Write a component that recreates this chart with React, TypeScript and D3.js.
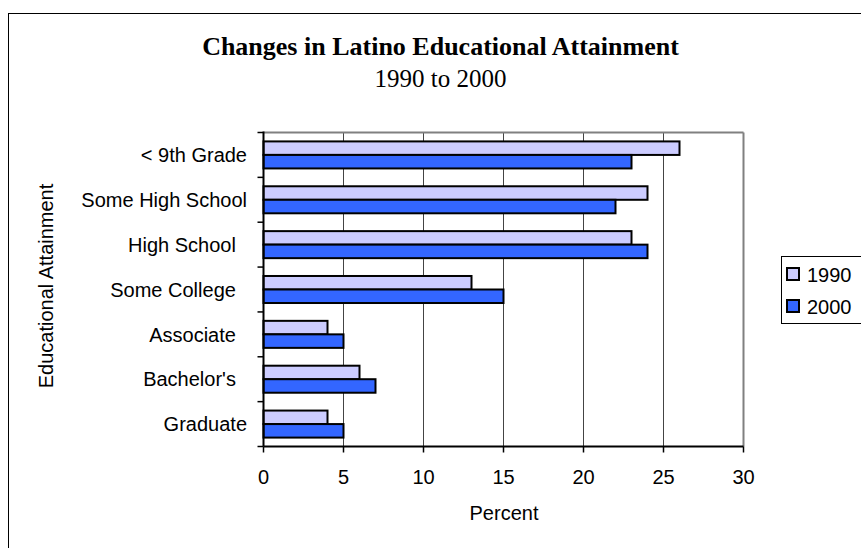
import React from "react";
import * as d3 from "d3";

const categories = ["< 9th Grade", "Some High School", "High School  ", "Some College  ", "Associate  ", "Bachelor's  ", "Graduate"];
const values1990 = [26, 24, 23, 13, 4, 6, 4];
const values2000 = [23, 22, 24, 15, 5, 7, 5];
const seriesNames = ["1990", "2000"];
const seriesColors = ["#CCCCFF", "#3366FF"];
const xTicks = [0, 5, 10, 15, 20, 25, 30];

const W = 861;
const H = 548;
const SANS = "'Liberation Sans', Arial, sans-serif";
const SERIF = "'Liberation Serif', 'Times New Roman', serif";

export default function App() {
  const left = 263.5, right = 743.5, top = 132.5, bottom = 446.5;
  const x = d3.scaleLinear().domain([0, 30]).range([left, right]);
  const y0 = d3.scaleBand<string>().domain(categories).range([top, bottom]).padding(0);
  const y1 = d3.scaleBand<string>().domain(seriesNames).range([0, y0.bandwidth()]).paddingInner(0).paddingOuter(0.66);
  const series = [values1990, values2000];
  const boundaries = d3.range(categories.length + 1).map((i) => top + i * y0.step());

  return (
    <svg width={W} height={H} style={{ position: "fixed", left: 0, top: 0, background: "#fff" }}>
      <rect x={8.5} y={13.5} width={900} height={600} fill="#fff" stroke="#000" strokeWidth={1} />
      <text x={440.5} y={55} textAnchor="middle" fontFamily={SERIF} fontWeight="bold" fontSize={26}>
        Changes in Latino Educational Attainment
      </text>
      <text x={440.5} y={87} textAnchor="middle" fontFamily={SERIF} fontSize={25}>
        1990 to 2000
      </text>

      {/* gridlines */}
      {xTicks.slice(1, -1).map((t) => (
        <line key={"g" + t} x1={x(t)} x2={x(t)} y1={top} y2={bottom} stroke="#444" strokeWidth={1} />
      ))}
      {/* plot border top/right */}
      <line x1={left} x2={right} y1={top} y2={top} stroke="#808080" strokeWidth={2} />
      <line x1={right} x2={right} y1={top} y2={bottom} stroke="#808080" strokeWidth={2} />

      {/* bars */}
      {categories.map((c, i) => (
        <g key={c} transform={`translate(0,${y0(c)})`}>
          {seriesNames.map((s, j) => (
            <rect
              key={s}
              x={x(0)}
              y={y1(s)}
              width={x(series[j][i]) - x(0)}
              height={y1.bandwidth()}
              fill={seriesColors[j]}
              stroke="#000"
              strokeWidth={2}
            />
          ))}
        </g>
      ))}

      {/* axes */}
      <line x1={left} x2={left} y1={top - 1} y2={bottom} stroke="#000" strokeWidth={2} />
      <line x1={left} x2={right} y1={bottom} y2={bottom} stroke="#000" strokeWidth={2} />
      {boundaries.map((b, i) => (
        <line key={"yt" + i} x1={left - 6} x2={left} y1={b} y2={b} stroke="#000" strokeWidth={1.5} />
      ))}
      {xTicks.map((t) => (
        <g key={"xt" + t}>
          <line x1={x(t)} x2={x(t)} y1={bottom} y2={bottom + 6} stroke="#000" strokeWidth={1.5} />
          <text x={x(t)} y={484} textAnchor="middle" fontFamily={SANS} fontSize={20}>
            {t}
          </text>
        </g>
      ))}
      {categories.map((c) => (
        <text
          key={"l" + c}
          x={247}
          y={(y0(c) as number) + y0.bandwidth() / 2}
          dy="0.36em"
          textAnchor="end"
          fontFamily={SANS}
          fontSize={20}
          style={{ whiteSpace: "pre" }}
        >
          {c}
        </text>
      ))}

      <text x={504} y={520} textAnchor="middle" fontFamily={SANS} fontSize={20}>
        Percent
      </text>
      <text
        transform={`translate(46,286) rotate(-90)`}
        textAnchor="middle"
        dy="0.36em"
        fontFamily={SANS}
        fontSize={20}
      >
        Educational Attainment
      </text>

      {/* legend */}
      <rect x={781.5} y={256.5} width={110} height={67} fill="#fff" stroke="#000" strokeWidth={1} />
      {seriesNames.map((s, j) => (
        <g key={"lg" + s} transform={`translate(0,${j * 32})`}>
          <rect x={787} y={268} width={12} height={12} fill={seriesColors[j]} stroke="#000" strokeWidth={2} />
          <text x={807} y={281.5} fontFamily={SANS} fontSize={20}>
            {s}
          </text>
        </g>
      ))}
    </svg>
  );
}
